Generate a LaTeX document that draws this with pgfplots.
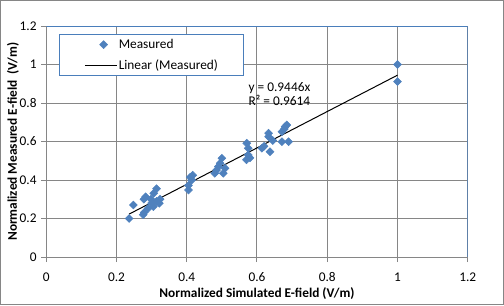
\documentclass[border=0pt]{standalone}
\usepackage{fontspec}
\setmainfont{Carlito}
\usepackage{pgfplots}
\pgfplotsset{compat=1.18}
\definecolor{xlblue}{HTML}{4F81BD}
\definecolor{xlgrid}{HTML}{868686}
\definecolor{xlborder}{HTML}{4A7EBB}
\pgfplotsset{
  diamleg/.style={legend image code/.code={\path (-4pt,0pt) (20pt,0pt); \path[##1] plot[only marks] coordinates {(10pt,0pt)};}},
  lineleg/.style={legend image code/.code={\draw[##1] (-4pt,0pt) -- (20pt,0pt);}},
}
\begin{document}
\begin{tikzpicture}
\useasboundingbox (0,0) rectangle (378pt,228.75pt);
\draw[xlgrid, line width=0.75pt] (0.375pt,0.375pt) rectangle (377.625pt,228.375pt);
\begin{axis}[
  at={(34.7pt,36pt)}, anchor=south west,
  scale only axis, width=316.1pt, height=173.25pt,
  xmin=0, xmax=1.2, ymin=0, ymax=1.2,
  xtick={0,0.2,0.4,0.6,0.8,1,1.2},
  ytick={0,0.2,0.4,0.6,0.8,1,1.2},
  axis x line*=bottom, axis y line*=left,
  axis line style={xlgrid, line width=0.75pt},
  grid=major, grid style={xlgrid, line width=0.75pt},
  tick align=outside, major tick length=3.75pt,
  tick style={xlgrid, line width=0.75pt},
  ticklabel style={font=\fontsize{10}{12}\selectfont},
  xticklabel style={yshift=-4.5pt},
  /pgf/number format/assume math mode=true,
  /pgf/number format/.cd, fixed, precision=1, /pgfplots/.cd,
  every axis x label/.style={at={(rel axis cs:0.5,0)}, anchor=center, yshift=-27.5pt},
  every axis y label/.style={at={(rel axis cs:0,0.5)}, anchor=center, xshift=-25pt, rotate=90},
  label style={font=\bfseries\fontsize{10}{12}\selectfont},
  xlabel={Normalized Simulated E-field (V/m)},
  ylabel={Normalized Measured E-field\ \ (V/m)},
  legend style={at={(rel axis cs:0.0309,0.964)}, anchor=north west,
    draw=xlborder, line width=0.75pt, fill=white,
    font=\fontsize{10}{12}\selectfont,
    inner xsep=18.5pt, inner ysep=1.6pt, row sep=4.25pt,
    nodes={inner sep=1pt, text height=7.5pt, text depth=2pt}},
  legend cell align=left,
]
\addplot[only marks, mark=square*, mark size=2.1pt,
  mark options={rotate=45, fill=xlblue, draw=xlblue, line width=0.4pt},
  diamleg]
coordinates {
(0.236,0.200) (0.248,0.270) (0.276,0.220) (0.279,0.232) (0.278,0.300)
(0.283,0.313) (0.290,0.253) (0.300,0.280) (0.305,0.262) (0.306,0.331)
(0.314,0.355) (0.314,0.289) (0.322,0.279) (0.324,0.300) (0.298,0.300)
(0.405,0.348) (0.405,0.372) (0.410,0.415) (0.414,0.400) (0.417,0.425)
(0.480,0.435) (0.485,0.452) (0.495,0.487) (0.500,0.513) (0.504,0.435)
(0.509,0.461) (0.490,0.470)
(0.571,0.591) (0.575,0.565) (0.575,0.530) (0.570,0.505) (0.580,0.515)
(0.614,0.565) (0.620,0.575) (0.637,0.547) (0.633,0.643) (0.633,0.625)
(0.645,0.605)
(0.671,0.651) (0.680,0.677) (0.685,0.686) (0.671,0.599) (0.690,0.599)
(0.678,0.665)
(1.000,1.000) (1.000,0.911)
};
\addlegendentry{Measured}
\addplot[black, line width=0.75pt, no marks, lineleg]
coordinates {(0.236,0.2229) (1.0,0.9446)};
\addlegendentry{Linear (Measured)}
\draw[xlborder, line width=0.75pt] (rel axis cs:0,1) -- (rel axis cs:1,1) -- (rel axis cs:1,0);
\node[anchor=base west, inner sep=0pt, font=\fontsize{10}{12}\selectfont] at (axis cs:0.5755,0.858) {y = 0.9446x};
\node[anchor=base west, inner sep=0pt, font=\fontsize{10}{12}\selectfont] at (axis cs:0.5755,0.789) {R² = 0.9614};
\end{axis}
\end{tikzpicture}
\end{document}
